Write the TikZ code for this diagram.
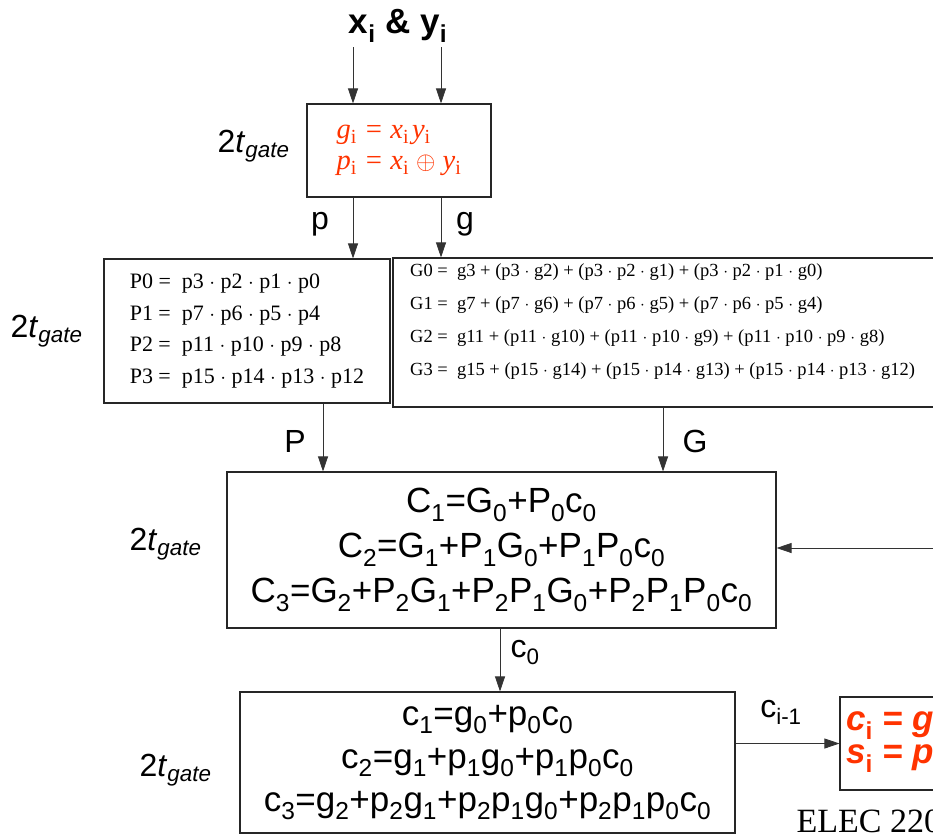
\documentclass[tikz,border=0pt]{standalone}
\usepackage{fontspec}
\setsansfont{Liberation Sans}
\renewcommand{\familydefault}{\sfdefault}
\newfontfamily\tnr{Liberation Serif}
\usetikzlibrary{arrows.meta}
\definecolor{eqred}{HTML}{FF3300}
\newcommand{\lo}[1]{\textsubscript{#1}}
\newcommand{\tgate}{2\textit{t}\lo{\textit{gate}}}

\begin{document}
\begin{tikzpicture}[x=1pt, y=-1pt,
    box/.style={draw=black!85, line width=1.1pt, inner sep=0pt, align=center},
    arr/.style={-{Triangle[length=15pt, width=10pt]}, draw=black!80, line width=0.8pt},
    tg/.style={anchor=base east, font=\fontsize{32}{32}\selectfont},
    lbl/.style={anchor=base, font=\fontsize{32}{32}\selectfont},
    sumfont/.style={font=\fontsize{35}{45}\selectfont},
    redfont/.style={text=eqred, align=left},
  ]
  \useasboundingbox (0,0) rectangle (933,836);
  \clip (0,0) rectangle (933,836);
  % inputs and first stage
  \node[anchor=base, font=\fontsize{35}{35}\selectfont\bfseries] (xy) at (398,33) {x\lo{i} \& y\lo{i}};
  \coordinate (xs) at (353,47);
  \coordinate (ys) at (441,47);
  \node[box, minimum width=184, minimum height=93, redfont,
    font=\tnr\itshape\fontsize{28.5}{31}\selectfont] (gp) at (399,150.5)
    {g\lo{\upshape i} = x\lo{\upshape i}\kern3pt y\lo{\upshape i}\\
     p\lo{\upshape i} = x\lo{\upshape i} $\oplus$ y\lo{\upshape i}};
  \node[tg] (t1) at (293,152) {\tgate};
  \draw[arr] (xs) -- (xs |- gp.north);
  \draw[arr] (ys) -- (ys |- gp.north);
  % group propagate / generate
  \node[box, minimum width=286, minimum height=144, align=left,
    font=\tnr\fontsize{22}{31.7}\selectfont] (pbox) at (247,331)
    {P0 =\ \ p3 $\cdot$ p2 $\cdot$ p1 $\cdot$ p0\\
     P1 =\ \ p7 $\cdot$ p6 $\cdot$ p5 $\cdot$ p4\\
     P2 =\ \ p11 $\cdot$ p10 $\cdot$ p9 $\cdot$ p8\\
     P3 =\ \ p15 $\cdot$ p14 $\cdot$ p13 $\cdot$ p12};
  \node[box, minimum width=567, minimum height=149] (gbox) at (676.5,332.5) {};
  \node[anchor=west, align=left, inner sep=0pt,
    font=\tnr\fontsize{18.5}{33}\selectfont] (gtxt) at (410,322)
    {G0 =\ \ g3 + (p3 $\cdot$ g2) + (p3 $\cdot$ p2 $\cdot$ g1) + (p3 $\cdot$ p2 $\cdot$ p1 $\cdot$ g0)\\
     G1 =\ \ g7 + (p7 $\cdot$ g6) + (p7 $\cdot$ p6 $\cdot$ g5) + (p7 $\cdot$ p6 $\cdot$ p5 $\cdot$ g4)\\
     G2 =\ \ g11 + (p11 $\cdot$ g10) + (p11 $\cdot$ p10 $\cdot$ g9) + (p11 $\cdot$ p10 $\cdot$ p9 $\cdot$ g8)\\
     G3 =\ \ g15 + (p15 $\cdot$ g14) + (p15 $\cdot$ p14 $\cdot$ g13) + (p15 $\cdot$ p14 $\cdot$ p13 $\cdot$ g12)};
  \node[tg] (t2) at (86,337) {\tgate};
  \node[lbl] (plbl) at (320,229) {p};
  \node[lbl] (glbl) at (465,229) {g};
  \draw[arr] (xs |- gp.south) -- (xs |- pbox.north);
  \draw[arr] (ys |- gp.south) -- (ys |- gbox.north);
  % carry lookahead over groups
  \node[box, minimum width=549, minimum height=156, sumfont] (cbox) at (501.5,550)
    {C\lo{1}=G\lo{0}+P\lo{0}c\lo{0}\\
     C\lo{2}=G\lo{1}+P\lo{1}G\lo{0}+P\lo{1}P\lo{0}c\lo{0}\\
     C\lo{3}=G\lo{2}+P\lo{2}G\lo{1}+P\lo{2}P\lo{1}G\lo{0}+P\lo{2}P\lo{1}P\lo{0}c\lo{0}};
  \node[tg] (t3) at (205,550) {\tgate};
  \coordinate (Px) at (323,0);
  \coordinate (Gx) at (663,0);
  \node[lbl] (Plbl) at (295,452) {P};
  \node[lbl] (Glbl) at (695,452) {G};
  \draw[arr] (Px |- pbox.south) -- (Px |- cbox.north);
  \draw[arr] (Gx |- gbox.south) -- (Gx |- cbox.north);
  \coordinate (fb) at (945,548);
  \draw[arr] (fb) -- (fb -| cbox.east);
  % carries inside a group
  \node[box, minimum width=495, minimum height=141, font=\fontsize{35}{43}\selectfont] (sbox) at (487.5,762.5)
    {c\lo{1}=g\lo{0}+p\lo{0}c\lo{0}\\
     c\lo{2}=g\lo{1}+p\lo{1}g\lo{0}+p\lo{1}p\lo{0}c\lo{0}\\
     c\lo{3}=g\lo{2}+p\lo{2}g\lo{1}+p\lo{2}p\lo{1}g\lo{0}+p\lo{2}p\lo{1}p\lo{0}c\lo{0}};
  \node[tg] (t4) at (215,776) {\tgate};
  \coordinate (cx) at (500,0);
  \node[lbl] (c0lbl) at (525,657) {c\lo{0}};
  \draw[arr] (cx |- cbox.south) -- (cx |- sbox.north);
  % sum stage
  \node[box, minimum width=150, minimum height=93] (rbox) at (915,743.5) {};
  \node[anchor=west, inner sep=0pt, redfont,
    font=\fontsize{35}{33}\selectfont\bfseries\itshape] (rtxt) at (846,742)
    {c\lo{\upshape i} = g\\ s\lo{\upshape i} = p};
  \node[lbl] (cilbl) at (781,717) {c\lo{i-1}};
  \draw[arr] (sbox.east |- rbox.west) -- (rbox.west);
  \node[anchor=base west, font=\tnr\fontsize{34}{34}\selectfont] (elec) at (793,832) {ELEC 220};
\end{tikzpicture}
\end{document}
